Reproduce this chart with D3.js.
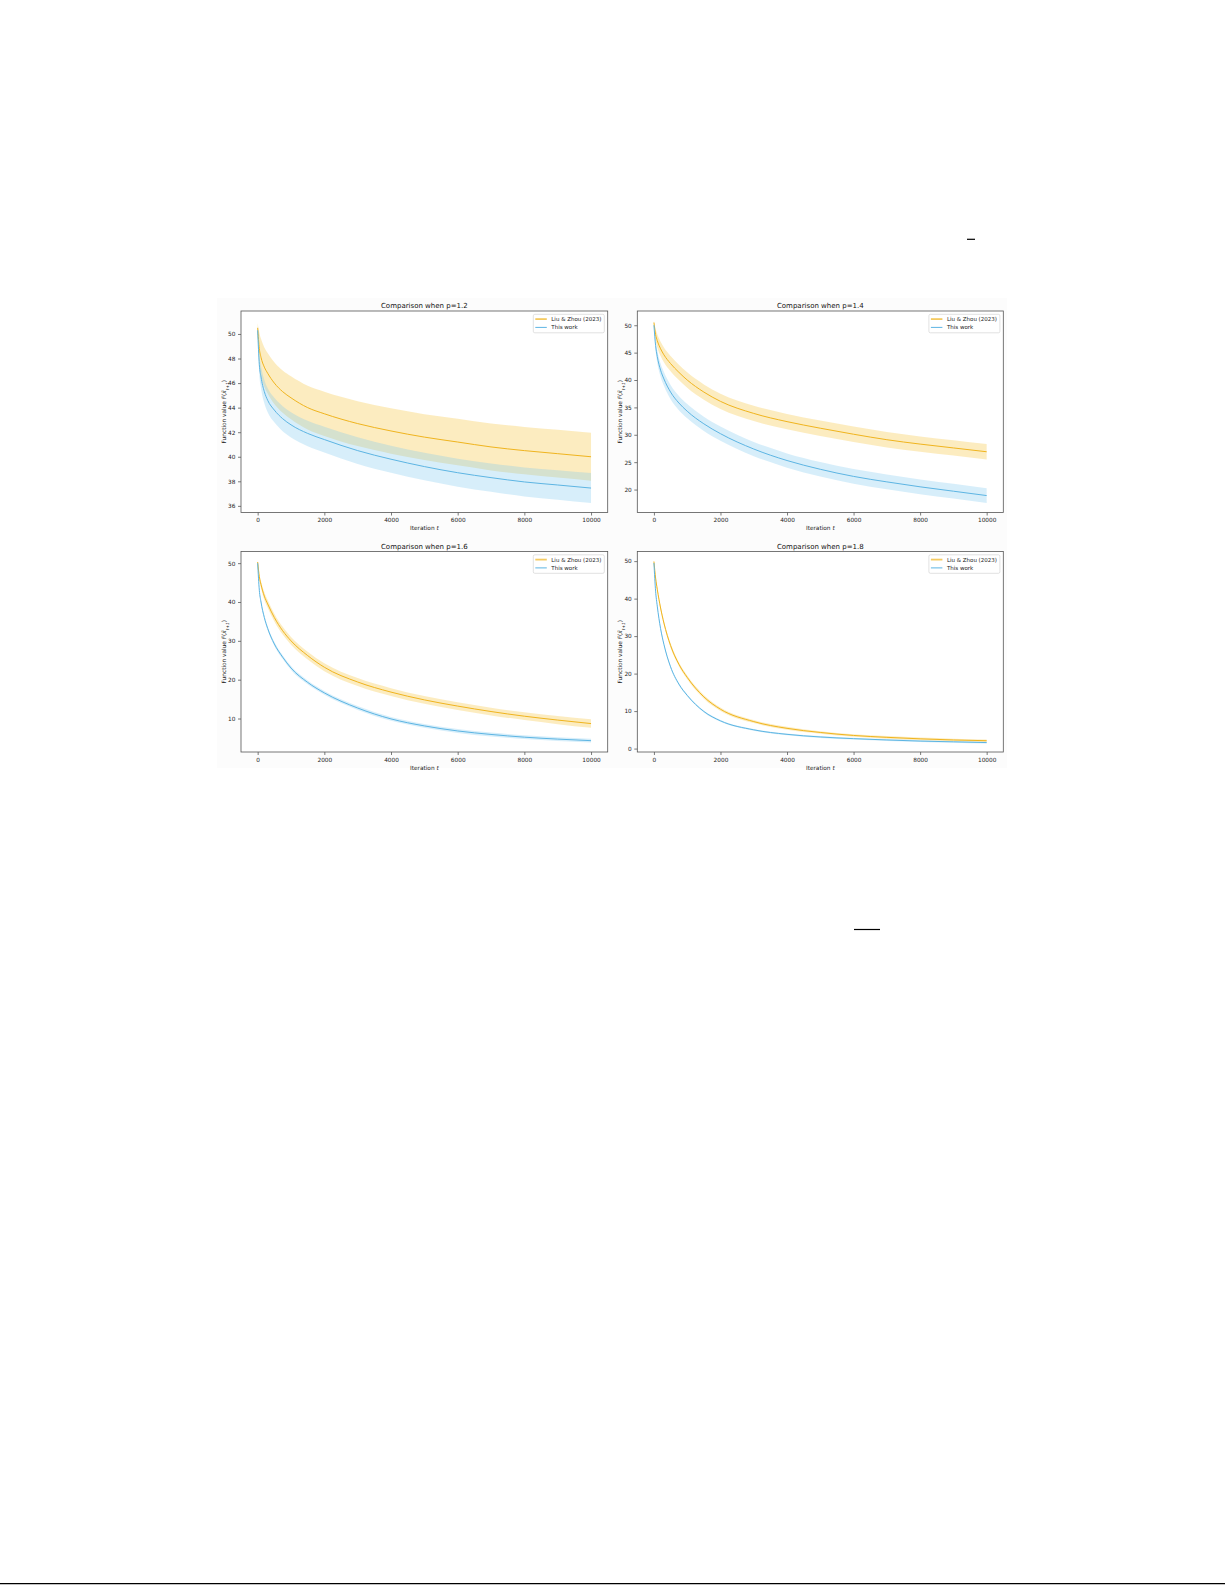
<!DOCTYPE html>
<html>
<head>
<meta charset="utf-8">
<script src="https://cdn.jsdelivr.net/npm/d3@7"></script>
<style>
  body { margin: 0; background: #fff; }
  svg { display: block; font-family: "DejaVu Sans", sans-serif; }
</style>
</head>
<body>
<script>
var iterations = [0, 50, 100, 200, 300, 500, 750, 1000, 1500, 2000, 3000, 4000, 5000, 6000, 7000, 8000, 9000, 10000];

// p = 1.2
var liu12 = [50.5, 48.8, 48.1, 47.3, 46.8, 46.0, 45.3, 44.8, 44.0, 43.5, 42.7, 42.1, 41.6, 41.2, 40.8, 40.5, 40.25, 40.0];
var liu12Std = [0.4, 1.3, 1.5, 1.6, 1.65, 1.7, 1.72, 1.75, 1.78, 1.8, 1.83, 1.85, 1.87, 1.9, 1.91, 1.93, 1.94, 1.95];
var ours12 = [50.3, 47.5, 46.5, 45.3, 44.6, 43.8, 43.1, 42.6, 41.9, 41.4, 40.5, 39.8, 39.2, 38.7, 38.3, 37.95, 37.7, 37.45];
var ours12Std = [0.3, 0.8, 0.9, 0.95, 0.97, 1.0, 1.02, 1.03, 1.04, 1.05, 1.08, 1.1, 1.12, 1.14, 1.16, 1.18, 1.2, 1.22];

// p = 1.4
var liu14 = [50.5, 48.3, 47.2, 45.7, 44.6, 43.0, 41.4, 40.0, 37.8, 36.1, 33.9, 32.4, 31.2, 30.1, 29.1, 28.3, 27.6, 26.9];
var liu14Std = [0.3, 1.0, 1.2, 1.3, 1.35, 1.4, 1.4, 1.4, 1.4, 1.4, 1.4, 1.4, 1.4, 1.4, 1.4, 1.4, 1.4, 1.4];
var ours14 = [50.0, 46.3, 44.3, 41.8, 40.2, 37.8, 35.8, 34.3, 32.0, 30.2, 27.4, 25.3, 23.7, 22.4, 21.4, 20.5, 19.7, 18.9];
var ours14Std = [0.3, 0.9, 1.1, 1.2, 1.25, 1.3, 1.3, 1.3, 1.3, 1.3, 1.3, 1.3, 1.32, 1.33, 1.34, 1.35, 1.35, 1.35];

// p = 1.6
var liu16 = [50.3, 46.5, 44.5, 41.5, 39.5, 36.0, 32.6, 30.0, 26.2, 23.2, 19.4, 16.8, 14.8, 13.2, 11.8, 10.6, 9.6, 8.7];
var liu16Std = [0.3, 0.8, 0.9, 1.0, 1.0, 1.0, 1.0, 1.0, 1.0, 1.0, 1.0, 1.0, 1.0, 1.0, 1.0, 1.0, 1.05, 1.1];
var ours16 = [50.0, 43.0, 40.0, 36.0, 33.2, 29.2, 25.8, 23.0, 19.3, 16.6, 12.7, 9.9, 8.1, 6.8, 5.9, 5.2, 4.7, 4.3];
var ours16Std = [0.2, 0.5, 0.5, 0.5, 0.5, 0.5, 0.5, 0.5, 0.5, 0.5, 0.5, 0.5, 0.5, 0.5, 0.5, 0.5, 0.5, 0.5];

// p = 1.8
var liu18 = [49.9, 45.5, 42.5, 37.5, 33.5, 27.5, 22.5, 19.0, 13.8, 10.5, 7.2, 5.4, 4.3, 3.5, 3.0, 2.6, 2.3, 2.1];
var liu18Std = [0.3, 0.6, 0.6, 0.6, 0.6, 0.6, 0.55, 0.5, 0.5, 0.45, 0.4, 0.4, 0.35, 0.35, 0.35, 0.35, 0.35, 0.35];
var ours18 = [49.5, 42.0, 38.0, 32.0, 27.8, 21.8, 17.2, 14.2, 9.9, 7.4, 5.0, 3.8, 3.1, 2.65, 2.3, 2.0, 1.8, 1.6];
var ours18Std = [0.2, 0.35, 0.3, 0.3, 0.3, 0.3, 0.3, 0.25, 0.25, 0.25, 0.25, 0.25, 0.25, 0.25, 0.25, 0.25, 0.25, 0.25];

var pValues = ["1.2", "1.4", "1.6", "1.8"];
var xTicks = [0, 2000, 4000, 6000, 8000, 10000];
var yTicks12 = [36, 38, 40, 42, 44, 46, 48, 50];
var yTicks14 = [20, 25, 30, 35, 40, 45, 50];
var yTicks16 = [10, 20, 30, 40, 50];
var yTicks18 = [0, 10, 20, 30, 40, 50];
var seriesNames = ["Liu & Zhou (2023)", "This work"];

var width = 1225;
var height = 1585;

var liuLine = "#f0b41e", liuFill = "#f5c030";
var oursLine = "#5db5e3", oursFill = "#7cc6ee";

var svg = d3.select("body")
    .append("svg")
    .attr("width", width)
    .attr("height", height);

// panel boxes (left, top, width, height) and y domains
var panels = [
    {p: pValues[0], box: [241, 311, 366.7, 201.5], yDom: [35.46, 51.87], yTicks: yTicks12, liu: liu12, liuStd: liu12Std, ours: ours12, oursStd: ours12Std},
    {p: pValues[1], box: [637.3, 311, 366, 201.5], yDom: [15.81, 52.6], yTicks: yTicks14, liu: liu14, liuStd: liu14Std, ours: ours14, oursStd: ours14Std},
    {p: pValues[2], box: [241, 551.5, 366.7, 200.5], yDom: [1.38, 53.0], yTicks: yTicks16, liu: liu16, liuStd: liu16Std, ours: ours16, oursStd: ours16Std},
    {p: pValues[3], box: [637.3, 551.5, 366, 200.5], yDom: [-0.91, 52.57], yTicks: yTicks18, liu: liu18, liuStd: liu18Std, ours: ours18, oursStd: ours18Std}
];

// faint figure background
svg.append("rect")
    .attr("x", 217).attr("y", 298)
    .attr("width", 790).attr("height", 470)
    .attr("fill", "#fcfcfc");

panels.forEach(function(panel) {
    var b = panel.box;
    var g = svg.append("g").attr("transform", "translate(" + b[0] + "," + b[1] + ")");

    var x = d3.scaleLinear().domain([-500, 10500]).range([0, b[2]]);
    var y = d3.scaleLinear().domain(panel.yDom).range([b[3], 0]);

    g.append("rect")
        .attr("width", b[2]).attr("height", b[3])
        .attr("fill", "#fff");

    function band(mean, std) {
        return d3.area()
            .x(function(d, i) { return x(iterations[i]); })
            .y0(function(d, i) { return y(mean[i] - std[i]); })
            .y1(function(d, i) { return y(mean[i] + std[i]); })
            .curve(d3.curveMonotoneX)(mean);
    }
    function line(mean) {
        return d3.line()
            .x(function(d, i) { return x(iterations[i]); })
            .y(function(d) { return y(d); })
            .curve(d3.curveMonotoneX)(mean);
    }

    g.append("path").attr("d", band(panel.liu, panel.liuStd))
        .attr("fill", liuFill).attr("fill-opacity", 0.3);
    g.append("path").attr("d", line(panel.liu))
        .attr("fill", "none").attr("stroke", liuLine).attr("stroke-width", 1);
    g.append("path").attr("d", band(panel.ours, panel.oursStd))
        .attr("fill", oursFill).attr("fill-opacity", 0.3);
    g.append("path").attr("d", line(panel.ours))
        .attr("fill", "none").attr("stroke", oursLine).attr("stroke-width", 1);

    var xAxis = g.append("g")
        .attr("transform", "translate(0," + b[3] + ")")
        .call(d3.axisBottom(x).tickValues(xTicks).tickFormat(d3.format("d")).tickSize(3).tickPadding(2.5));
    var yAxis = g.append("g")
        .call(d3.axisLeft(y).tickValues(panel.yTicks).tickFormat(d3.format("d")).tickSize(3).tickPadding(2.5));
    [xAxis, yAxis].forEach(function(ax) {
        ax.select(".domain").remove();
        ax.selectAll("line").attr("stroke", "#444").attr("stroke-width", 0.7);
        ax.selectAll("text").attr("font-size", 5.8).attr("fill", "#222")
            .attr("font-family", "DejaVu Sans");
    });

    g.append("rect")
        .attr("width", b[2]).attr("height", b[3])
        .attr("fill", "none").attr("stroke", "#555").attr("stroke-width", 0.8);

    g.append("text")
        .attr("x", b[2] / 2).attr("y", -3)
        .attr("text-anchor", "middle")
        .attr("font-size", 7).attr("fill", "#111")
        .text("Comparison when p=" + panel.p);

    var xl = g.append("text")
        .attr("x", b[2] / 2).attr("y", b[3] + 17.5)
        .attr("text-anchor", "middle")
        .attr("font-size", 5.8).attr("fill", "#222");
    xl.append("tspan").text("Iteration ");
    xl.append("tspan").attr("font-style", "italic").text("t");

    var yl = g.append("text")
        .attr("transform", "translate(" + (-15.5) + "," + (b[3] / 2) + ") rotate(-90)")
        .attr("text-anchor", "middle")
        .attr("font-size", 5.8).attr("fill", "#222");
    yl.append("tspan").text("Function value ");
    yl.append("tspan").attr("font-style", "italic").text("F");
    yl.append("tspan").text("(");
    yl.append("tspan").attr("font-style", "italic").text("x\u0304");
    yl.append("tspan").attr("font-style", "italic").attr("font-size", 4.2)
        .attr("baseline-shift", "sub").text("t+1");
    yl.append("tspan").text(")");

    // legend, upper right
    var lw = 71, lh = 18.5;
    var lg = g.append("g").attr("transform", "translate(" + (b[2] - 3.4 - lw) + ",3.3)");
    lg.append("rect")
        .attr("width", lw).attr("height", lh).attr("rx", 1.5)
        .attr("fill", "#fff").attr("fill-opacity", 0.8)
        .attr("stroke", "#ccc").attr("stroke-width", 0.6);
    var legendColors = [liuLine, oursLine];
    var legendWidths = [1.8, 1.0];
    seriesNames.forEach(function(name, i) {
        var ry = 4.8 + i * 8.3;
        lg.append("line")
            .attr("x1", 2).attr("x2", 13.5)
            .attr("y1", ry).attr("y2", ry)
            .attr("stroke", legendColors[i])
            .attr("stroke-opacity", i === 0 ? 0.7 : 1)
            .attr("stroke-width", legendWidths[i]);
        lg.append("text")
            .attr("x", 18).attr("y", ry + 2)
            .attr("font-size", 5.5).attr("fill", "#222")
            .text(name);
    });
});

// page furniture around the figure
svg.append("line").attr("x1", 967).attr("x2", 975).attr("y1", 239.3).attr("y2", 239.3)
    .attr("stroke", "#000").attr("stroke-width", 1.2);
svg.append("line").attr("x1", 854).attr("x2", 880).attr("y1", 929.5).attr("y2", 929.5)
    .attr("stroke", "#000").attr("stroke-width", 1.2);
svg.append("line").attr("x1", 0).attr("x2", width).attr("y1", 1583.7).attr("y2", 1583.7)
    .attr("stroke", "#000").attr("stroke-width", 1.2);
</script>
</body>
</html>
